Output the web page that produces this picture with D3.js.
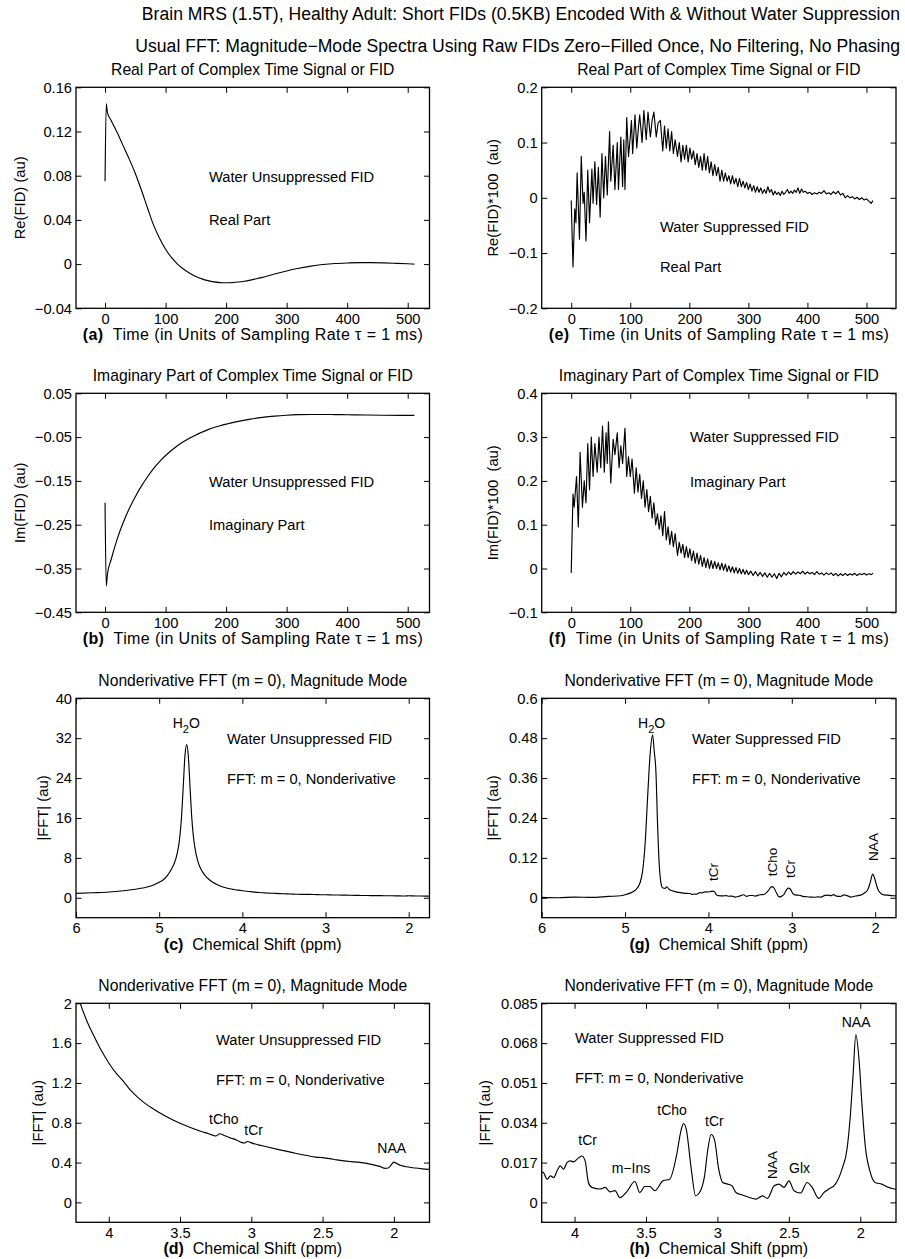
<!DOCTYPE html>
<html>
<head>
<meta charset="utf-8">
<script src="https://cdn.jsdelivr.net/npm/d3@7"></script>
<style>
  html, body { margin: 0; padding: 0; background: #fff; }
  svg { display: block; font-family: "Liberation Sans", Arial, Helvetica, sans-serif; }
  text { white-space: pre; fill: #000; }
</style>
</head>
<body>
<svg id="fig" width="905" height="1259"></svg>
<script>
// ---------- Text ----------
const figureTitle = [
  "Brain MRS (1.5T), Healthy Adult: Short FIDs (0.5KB) Encoded With & Without Water Suppression",
  "Usual FFT: Magnitude\u2212Mode Spectra Using Raw FIDs Zero\u2212Filled Once, No Filtering, No Phasing"
];
const titleRe = "Real Part of Complex Time Signal or FID";
const titleIm = "Imaginary Part of Complex Time Signal or FID";
const titleFFT = "Nonderivative FFT (m = 0), Magnitude Mode";
const timeLabel = "Time (in Units of Sampling Rate \u03c4 = 1 ms)";
const ppmLabel = "Chemical Shift (ppm)";

// ---------- Tick values ----------
const timeTicks = [0, 100, 200, 300, 400, 500];
const reUnsupTicks = [-0.04, 0, 0.04, 0.08, 0.12, 0.16];
const imUnsupTicks = [-0.45, -0.35, -0.25, -0.15, -0.05, 0.05];
const reSupTicks = [-0.2, -0.1, 0, 0.1, 0.2];
const imSupTicks = [-0.1, 0, 0.1, 0.2, 0.3, 0.4];
const ppmWideTicks = [6, 5, 4, 3, 2];
const ppmNarrowTicks = [4, 3.5, 3, 2.5, 2];
const fftUnsupWideTicks = [0, 8, 16, 24, 32, 40];
const fftUnsupNarrowTicks = [0, 0.4, 0.8, 1.2, 1.6, 2];
const fftSupWideTicks = [0, 0.12, 0.24, 0.36, 0.48, 0.6];
const fftSupNarrowTicks = [0, 0.017, 0.034, 0.051, 0.068, 0.085];

// ---------- Data: [time, value] ----------
const reFidUnsup = [[0,0.075],[2,0.145],[4,0.137],[10,0.13],[20,0.119],[30,0.107],[40,0.095],[50,0.082],[60,0.067],[70,0.051],[80,0.0355],[90,0.0235],[100,0.0135],[110,0.0058],[120,-0.0002],[130,-0.0047],[140,-0.0083],[150,-0.0112],[160,-0.0134],[170,-0.015],[180,-0.0161],[190,-0.0167],[200,-0.0169],[210,-0.0167],[220,-0.0162],[230,-0.0155],[240,-0.0145],[250,-0.0133],[260,-0.012],[270,-0.0105],[280,-0.009],[290,-0.0076],[300,-0.0062],[320,-0.0038],[340,-0.0018],[360,-0.0004],[380,0.0005],[400,0.001],[420,0.0013],[440,0.0013],[460,0.0011],[480,0.0007],[500,0.0003],[511,0.0]];

const imFidUnsup = [[0,-0.2],[2,-0.39],[4,-0.362],[10,-0.33],[20,-0.283],[30,-0.245],[40,-0.213],[50,-0.186],[60,-0.162],[70,-0.141],[80,-0.122],[90,-0.106],[100,-0.092],[110,-0.08],[120,-0.069],[130,-0.06],[140,-0.052],[150,-0.045],[160,-0.039],[170,-0.033],[180,-0.028],[190,-0.024],[200,-0.0205],[220,-0.014],[240,-0.009],[260,-0.005],[280,-0.002],[300,0.0],[320,0.0012],[340,0.0017],[360,0.0017],[380,0.0014],[400,0.001],[430,0.0004],[460,-0.0001],[490,-0.0004],[511,-0.0005]];

// water-suppressed FID, scaled by 100
const reFidSup = [[0,-0.005],[3,-0.125],[6,-0.02],[8,-0.045],[10,0.045],[14,-0.075],[17,0.075],[20,-0.01],[22,0.01],[25,-0.078],[28,0.05],[31,-0.045],[35,0.052],[37,-0.01],[40,0.065],[43,-0.012],[46,0.055],[49,-0.035],[52,0.08],[55,0.0],[58,0.075],[61,0.005],[65,0.12],[67,0.03],[71,0.095],[74,0.015],[78,0.1],[80,0.015],[84,0.11],[87,0.02],[89,0.105],[91,0.015],[94,0.145],[97,0.075],[100,0.11],[102,0.14],[104,0.08],[108,0.15],[111,0.09],[114,0.13],[116,0.15],[120,0.1],[123,0.158],[127,0.105],[130,0.155],[134,0.11],[137,0.14],[140,0.155],[144,0.11],[147,0.135],[151,0.14],[155,0.085],[158,0.13],[161,0.09],[164,0.125],[167,0.085],[170,0.12],[173,0.08],[176,0.105],[180,0.075],[183,0.1],[186,0.065],[189,0.095],[192,0.07],[195,0.095],[198,0.065],[201,0.09],[204,0.07],[207,0.085],[210,0.06],[213,0.08],[216,0.055],[219,0.075],[222,0.05],[225,0.08],[228,0.05],[231,0.075],[234,0.045],[237,0.065],[240,0.04],[243,0.06],[246,0.04],[249,0.055],[252,0.03],[255,0.05],[258,0.03],[261,0.045],[264,0.03],[267,0.04],[270,0.025],[273,0.04],[276,0.025],[279,0.035],[282,0.02],[285,0.035],[288,0.02],[291,0.03],[294,0.018],[297,0.028],[300,0.015],[303,0.025],[306,0.012],[309,0.022],[312,0.01],[315,0.02],[318,0.01],[321,0.018],[324,0.008],[327,0.015],[330,0.008],[333,0.02],[336,0.01],[339,0.015],[342,0.005],[345,0.012],[348,0.006],[351,0.01],[354,0.004],[357,0.012],[360,0.006],[363,0.01],[366,0.015],[369,0.008],[372,0.012],[375,0.008],[378,0.014],[381,0.01],[384,0.018],[387,0.008],[390,0.016],[393,0.01],[396,0.012],[400,0.008],[404,0.01],[408,0.006],[412,0.009],[416,0.007],[420,0.01],[424,0.008],[428,0.013],[432,0.007],[436,0.009],[440,0.006],[444,0.011],[448,0.007],[452,0.012],[456,0.005],[460,0.008],[464,0.0],[468,0.004],[472,0.0],[476,0.002],[480,-0.002],[484,0.001],[488,-0.003],[492,0.0],[496,-0.004],[500,-0.002],[504,-0.006],[508,-0.01],[511,-0.005]];

const imFidSup = [[0,-0.01],[3,0.17],[5,0.14],[9,0.21],[12,0.095],[15,0.265],[19,0.14],[22,0.2],[25,0.15],[28,0.285],[31,0.18],[34,0.3],[37,0.21],[40,0.285],[44,0.22],[47,0.3],[50,0.23],[53,0.325],[56,0.22],[59,0.31],[61,0.24],[63,0.335],[67,0.195],[71,0.295],[74,0.26],[78,0.31],[81,0.23],[84,0.28],[87,0.24],[91,0.32],[94,0.21],[97,0.255],[100,0.21],[103,0.25],[107,0.172],[110,0.23],[113,0.175],[116,0.215],[119,0.16],[122,0.2],[125,0.14],[128,0.18],[131,0.13],[134,0.165],[137,0.115],[140,0.15],[143,0.1],[146,0.125],[149,0.09],[152,0.12],[155,0.075],[158,0.13],[161,0.065],[164,0.095],[167,0.055],[170,0.085],[173,0.05],[176,0.08],[180,0.03],[183,0.06],[186,0.035],[189,0.055],[192,0.025],[195,0.05],[198,0.025],[201,0.045],[204,0.018],[207,0.04],[210,0.012],[213,0.035],[216,0.01],[219,0.03],[222,0.005],[225,0.025],[228,0.002],[231,0.022],[234,0.0],[237,0.018],[240,0.0],[243,0.016],[246,0.0],[249,0.013],[252,-0.003],[255,0.012],[258,-0.004],[261,0.01],[264,-0.007],[267,0.006],[270,-0.008],[273,0.004],[276,-0.01],[279,0.002],[282,-0.011],[285,0.0],[288,-0.012],[291,-0.002],[294,-0.013],[297,-0.004],[300,-0.014],[304,-0.006],[308,-0.016],[312,-0.007],[316,-0.017],[320,-0.009],[324,-0.018],[328,-0.01],[332,-0.02],[336,-0.011],[340,-0.02],[344,-0.012],[348,-0.023],[352,-0.011],[356,-0.019],[360,-0.009],[364,-0.015],[368,-0.008],[372,-0.014],[376,-0.007],[380,-0.013],[384,-0.008],[388,-0.012],[392,-0.006],[396,-0.013],[400,-0.008],[404,-0.012],[408,-0.009],[412,-0.014],[416,-0.007],[420,-0.013],[424,-0.01],[428,-0.015],[432,-0.01],[436,-0.014],[440,-0.01],[444,-0.016],[448,-0.011],[452,-0.017],[456,-0.012],[460,-0.016],[464,-0.011],[468,-0.016],[472,-0.012],[476,-0.015],[480,-0.011],[484,-0.016],[488,-0.012],[492,-0.014],[496,-0.011],[500,-0.015],[504,-0.012],[508,-0.014],[511,-0.011]];

// ---------- Data: magnitude spectra [ppm, |FFT|] ----------
const specUnsup = [[6.0,0.87],[5.8,1.0],[5.6,1.15],[5.4,1.45],[5.2,1.95],[5.1,2.35],[5.0,3.1],[4.95,3.6],[4.9,4.5],[4.85,5.8],[4.8,7.8],[4.77,10],[4.75,12.5],[4.73,16.5],[4.71,22.5],[4.69,28.5],[4.67,30.7],[4.65,28.5],[4.63,22.5],[4.61,16.5],[4.59,12.5],[4.57,10],[4.54,7.6],[4.5,5.8],[4.45,4.5],[4.4,3.65],[4.35,3.05],[4.3,2.6],[4.25,2.27],[4.2,2.0],[4.15,1.81],[4.1,1.66],[4.05,1.52],[4.0,1.4],[3.95,1.3],[3.9,1.22],[3.85,1.13],[3.8,1.06],[3.75,1.0],[3.7,0.95],[3.65,0.905],[3.6,0.865],[3.55,0.828],[3.5,0.795],[3.45,0.765],[3.4,0.738],[3.35,0.712],[3.3,0.69],[3.27,0.675],[3.25,0.667],[3.22,0.69],[3.19,0.672],[3.15,0.65],[3.1,0.625],[3.07,0.603],[3.05,0.597],[3.025,0.612],[3.0,0.598],[2.95,0.578],[2.9,0.561],[2.8,0.528],[2.7,0.497],[2.6,0.468],[2.55,0.455],[2.5,0.45],[2.45,0.44],[2.4,0.427],[2.35,0.417],[2.3,0.41],[2.25,0.404],[2.2,0.394],[2.15,0.38],[2.1,0.362],[2.06,0.342],[2.04,0.345],[2.02,0.375],[2.0,0.405],[1.98,0.39],[1.95,0.37],[1.9,0.355],[1.85,0.345],[1.8,0.337],[1.75,0.33]];

const specSup = [[6.0,0.001],[5.8,0.0],[5.6,0.002],[5.4,0.001],[5.2,0.004],[5.05,0.006],[5.0,0.009],[4.94,0.014],[4.88,0.022],[4.82,0.045],[4.79,0.08],[4.76,0.16],[4.73,0.3],[4.7,0.43],[4.67,0.49],[4.65,0.44],[4.63,0.38],[4.61,0.22],[4.59,0.1],[4.57,0.045],[4.55,0.03],[4.52,0.028],[4.5,0.033],[4.47,0.025],[4.42,0.02],[4.36,0.016],[4.3,0.014],[4.25,0.013],[4.22,0.0128],[4.192,0.0099],[4.169,0.0113],[4.146,0.0106],[4.122,0.0135],[4.1,0.0156],[4.077,0.0142],[4.053,0.017],[4.03,0.0177],[4.007,0.0173],[3.972,0.019],[3.949,0.0198],[3.926,0.0177],[3.903,0.0085],[3.879,0.0064],[3.821,0.0057],[3.786,0.0064],[3.752,0.0045],[3.717,0.005],[3.682,0.002],[3.635,0.0045],[3.578,0.0089],[3.543,0.0042],[3.508,0.0068],[3.473,0.0068],[3.438,0.005],[3.381,0.0092],[3.334,0.0099],[3.287,0.0198],[3.253,0.0312],[3.237,0.0337],[3.218,0.0312],[3.183,0.0142],[3.153,0.0028],[3.125,0.0042],[3.09,0.0113],[3.067,0.0227],[3.044,0.029],[3.021,0.0269],[2.991,0.0142],[2.963,0.0085],[2.928,0.0078],[2.898,0.0071],[2.87,0.0042],[2.824,0.0031],[2.777,0.0021],[2.731,0.0014],[2.685,0.0028],[2.65,0.0017],[2.603,0.0071],[2.569,0.0078],[2.534,0.0064],[2.499,0.0092],[2.464,0.005],[2.418,0.004],[2.372,0.0085],[2.337,0.0064],[2.29,0.0017],[2.255,0.0042],[2.221,0.0057],[2.174,0.0078],[2.128,0.0142],[2.093,0.0227],[2.07,0.0368],[2.051,0.0538],[2.031,0.0716],[2.007,0.0595],[1.989,0.0425],[1.965,0.024],[1.93,0.0128],[1.896,0.0085],[1.85,0.0078],[1.803,0.0064],[1.761,0.0057],[1.75,0.0055]];

// ---------- Layout ----------
const cols = [{ x0: 76, x1: 429.5 }, { x0: 541.7, x1: 896 }];
const rows = [{ y0: 87.3, y1: 308.3 }, { y0: 393.3, y1: 612.3 }, { y0: 698.3, y1: 917.7 }, { y0: 1003.3, y1: 1222.3 }];
const FS = { sup: 17.6, title: 15.7, tick: 14.7, xlabel: 16, ylabel: 14.8, note: 14.7, peak: 14, peakRot: 13.5 };
const TIME_LABEL_WIDTH = 340;

const panels = [
  { id: "a", col: 0, row: 0, data: reFidUnsup, xDomain: [-48, 536], yDomain: [-0.04, 0.16],
    xTicks: timeTicks, yTicks: reUnsupTicks, title: titleRe, tag: "(a)", xlabel: timeLabel,
    ylabel: "Re(FID) (au)", ylabelX: 20, curve: d3.curveMonotoneX,
    notes: [{ t: "Water Unsuppressed FID", x: 209, y: 182 }, { t: "Real Part", x: 209, y: 225 }] },
  { id: "e", col: 1, row: 0, data: reFidSup, xDomain: [-50, 550], yDomain: [-0.2, 0.2],
    xTicks: timeTicks, yTicks: reSupTicks, title: titleRe, tag: "(e)", xlabel: timeLabel,
    ylabel: "Re(FID)*100  (au)", ylabelX: 493, curve: d3.curveLinear,
    notes: [{ t: "Water Suppressed FID", x: 660, y: 232 }, { t: "Real Part", x: 660, y: 272 }] },
  { id: "b", col: 0, row: 1, data: imFidUnsup, xDomain: [-48, 536], yDomain: [-0.45, 0.05],
    xTicks: timeTicks, yTicks: imUnsupTicks, title: titleIm, tag: "(b)", xlabel: timeLabel,
    ylabel: "Im(FID) (au)", ylabelX: 20, curve: d3.curveMonotoneX,
    notes: [{ t: "Water Unsuppressed FID", x: 209, y: 487 }, { t: "Imaginary Part", x: 209, y: 530 }] },
  { id: "f", col: 1, row: 1, data: imFidSup, xDomain: [-50, 550], yDomain: [-0.1, 0.4],
    xTicks: timeTicks, yTicks: imSupTicks, title: titleIm, tag: "(f)", xlabel: timeLabel,
    ylabel: "Im(FID)*100  (au)", ylabelX: 493, curve: d3.curveLinear,
    notes: [{ t: "Water Suppressed FID", x: 690, y: 442 }, { t: "Imaginary Part", x: 690, y: 487 }] },
  { id: "c", col: 0, row: 2, data: specUnsup, xDomain: [6, 1.75], yDomain: [-4, 40],
    xTicks: ppmWideTicks, yTicks: fftUnsupWideTicks, title: titleFFT, tag: "(c)", xlabel: ppmLabel,
    ylabel: "|FFT| (au)", ylabelX: 43, curve: d3.curveMonotoneX,
    notes: [{ t: "Water Unsuppressed FID", x: 227, y: 744 }, { t: "FFT: m = 0, Nonderivative", x: 227, y: 784 },
            { water: true, x: 172.7, y: 728 }] },
  { id: "g", col: 1, row: 2, data: specSup, xDomain: [6, 1.75], yDomain: [-0.06, 0.6],
    xTicks: ppmWideTicks, yTicks: fftSupWideTicks, title: titleFFT, tag: "(g)", xlabel: ppmLabel,
    ylabel: "|FFT| (au)", ylabelX: 493, curve: d3.curveMonotoneX,
    notes: [{ t: "Water Suppressed FID", x: 692, y: 744 }, { t: "FFT: m = 0, Nonderivative", x: 692, y: 784 },
            { water: true, x: 638, y: 728 },
            { t: "tCr", x: 713.3, y: 872, rot: true }, { t: "tCho", x: 772.7, y: 862, rot: true },
            { t: "tCr", x: 790.7, y: 869, rot: true }, { t: "NAA", x: 873.3, y: 847, rot: true }] },
  { id: "d", col: 0, row: 3, data: specUnsup, xDomain: [4.23, 1.75], yDomain: [-0.2, 2],
    xTicks: ppmNarrowTicks, yTicks: fftUnsupNarrowTicks, title: titleFFT, tag: "(d)", xlabel: ppmLabel,
    ylabel: "|FFT| (au)", ylabelX: 38, curve: d3.curveMonotoneX,
    notes: [{ t: "Water Unsuppressed FID", x: 216, y: 1045 }, { t: "FFT: m = 0, Nonderivative", x: 216, y: 1085 },
            { t: "tCho", x: 209, y: 1124 }, { t: "tCr", x: 244.3, y: 1135 }, { t: "NAA", x: 377.3, y: 1153 }] },
  { id: "h", col: 1, row: 3, data: specSup, xDomain: [4.23, 1.75], yDomain: [-0.0085, 0.085],
    xTicks: ppmNarrowTicks, yTicks: fftSupNarrowTicks, title: titleFFT, tag: "(h)", xlabel: ppmLabel,
    ylabel: "|FFT| (au)", ylabelX: 485, curve: d3.curveMonotoneX,
    notes: [{ t: "Water Suppressed FID", x: 575, y: 1043 }, { t: "FFT: m = 0, Nonderivative", x: 575, y: 1083 },
            { t: "NAA", x: 841.7, y: 1027 }, { t: "tCho", x: 657.3, y: 1115 }, { t: "tCr", x: 705, y: 1126 },
            { t: "tCr", x: 578.3, y: 1145 }, { t: "m\u2212Ins", x: 611.7, y: 1173 }, { t: "Glx", x: 789, y: 1173 },
            { t: "NAA", x: 772.7, y: 1165, rot: true }] }
];

// ---------- Drawing ----------
const svg = d3.select("#fig");
svg.append("rect").attr("width", 905).attr("height", 1259).attr("fill", "#fff");

figureTitle.forEach((line, k) => {
  svg.append("text").attr("x", 900).attr("y", 20 + 32 * k)
    .attr("text-anchor", "end").attr("font-size", FS.sup).text(line);
});

const fmt = v => String(v).replace("-", "\u2212");
const TICK = 5.5;

function styleAxis(sel) {
  sel.attr("font-size", null).attr("font-family", null);
  sel.select(".domain").remove();
  sel.selectAll(".tick line").attr("stroke", "#000").attr("stroke-width", 1);
  sel.selectAll(".tick text").attr("font-size", FS.tick).attr("fill", "#000");
}

panels.forEach(p => {
  const c = cols[p.col], r = rows[p.row];
  const x = d3.scaleLinear().domain(p.xDomain).range([c.x0, c.x1]);
  const y = d3.scaleLinear().domain(p.yDomain).range([r.y1, r.y0]);
  const g = svg.append("g").attr("class", "panel-" + p.id);

  const clipId = "clip-" + p.id;
  svg.append("clipPath").attr("id", clipId).append("rect")
    .attr("x", c.x0).attr("y", r.y0).attr("width", c.x1 - c.x0).attr("height", r.y1 - r.y0);

  // trace
  g.append("path").datum(p.data)
    .attr("clip-path", `url(#${clipId})`)
    .attr("fill", "none").attr("stroke", "#000").attr("stroke-width", 1.15)
    .attr("stroke-linejoin", "round")
    .attr("d", d3.line().x(d => x(d[0])).y(d => y(d[1])).curve(p.curve));

  // axes with inward ticks on all four sides
  g.append("g").attr("transform", `translate(0,${r.y1})`)
    .call(d3.axisBottom(x).tickValues(p.xTicks).tickFormat(fmt).tickSize(-TICK).tickPadding(5))
    .call(styleAxis);
  g.append("g").attr("transform", `translate(0,${r.y0})`)
    .call(d3.axisTop(x).tickValues(p.xTicks).tickFormat("").tickSize(-TICK))
    .call(styleAxis);
  g.append("g").attr("transform", `translate(${c.x0},0)`)
    .call(d3.axisLeft(y).tickValues(p.yTicks).tickFormat(fmt).tickSize(-TICK).tickPadding(4))
    .call(styleAxis);
  g.append("g").attr("transform", `translate(${c.x1},0)`)
    .call(d3.axisRight(y).tickValues(p.yTicks).tickFormat("").tickSize(-TICK))
    .call(styleAxis);

  // box
  g.append("rect").attr("x", c.x0).attr("y", r.y0)
    .attr("width", c.x1 - c.x0).attr("height", r.y1 - r.y0)
    .attr("fill", "none").attr("stroke", "#000").attr("stroke-width", 1.3);

  const cx = (c.x0 + c.x1) / 2;
  // panel title
  g.append("text").attr("x", cx).attr("y", r.y0 - 12)
    .attr("text-anchor", "middle").attr("font-size", FS.title).text(p.title);

  // x label with bold panel tag
  const xl = g.append("text").attr("x", cx).attr("y", r.y1 + 32)
    .attr("text-anchor", "middle").attr("font-size", FS.xlabel);
  if (p.xlabel === timeLabel) xl.attr("textLength", TIME_LABEL_WIDTH).attr("lengthAdjust", "spacing");
  xl.append("tspan").attr("font-weight", "bold").text(p.tag);
  xl.append("tspan").text("  " + p.xlabel);

  // y label
  g.append("text")
    .attr("transform", `translate(${p.ylabelX},${(r.y0 + r.y1) / 2}) rotate(-90)`)
    .attr("text-anchor", "middle").attr("dy", "0.35em")
    .attr("font-size", FS.ylabel).text(p.ylabel);

  // annotations
  p.notes.forEach(n => {
    if (n.water) {
      const t = g.append("text").attr("x", n.x).attr("y", n.y).attr("font-size", FS.peak);
      t.append("tspan").text("H");
      t.append("tspan").attr("dy", 5).attr("font-size", 11).text("2");
      t.append("tspan").attr("dy", -5).text("O");
    } else if (n.rot) {
      g.append("text")
        .attr("transform", `translate(${n.x},${n.y}) rotate(-90)`)
        .attr("text-anchor", "middle").attr("dy", "0.35em")
        .attr("font-size", FS.peakRot).text(n.t);
    } else {
      const big = n.t.length > 6;
      g.append("text").attr("x", n.x).attr("y", n.y)
        .attr("font-size", big ? FS.note : FS.peak).text(n.t);
    }
  });
});
</script>
</body>
</html>
